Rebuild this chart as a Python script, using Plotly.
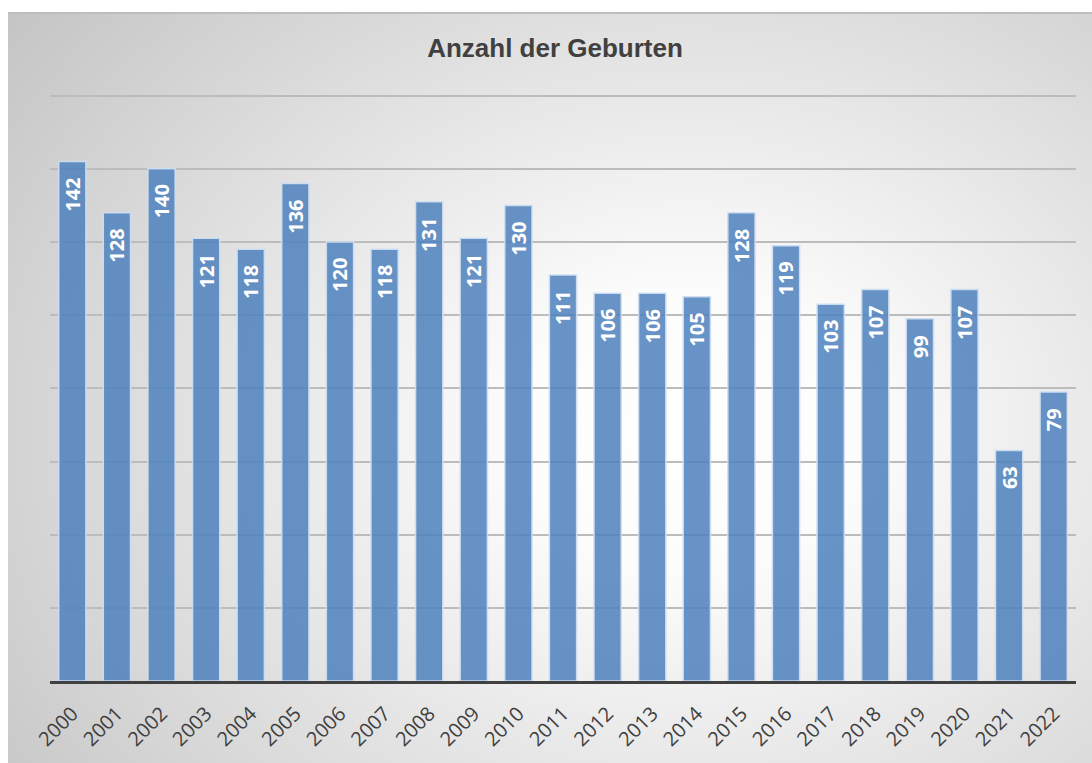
import base64
import plotly.graph_objects as go

# Births per year
years = [str(y) for y in range(2000, 2023)]
births = [142, 128, 140, 121, 118, 136, 120, 118, 131, 121, 130, 111,
          106, 106, 105, 128, 119, 103, 107, 99, 107, 63, 79]

title_text = "Anzahl der Geburten"

# Layout geometry (pixels)
W, H = 1092, 763
Y_MAX = 161
M_L, M_R, M_B = 50, 16, 82
PX_PER_UNIT = 585 / 160
M_T = round(H - M_B - Y_MAX * PX_PER_UNIT)
plot_w = W - M_L - M_R
plot_h = H - M_T - M_B

# Chart-area box (pixel coords) holding the radial-gradient backdrop
box_x0, box_y0, box_x1, box_y1 = 8, 12, W, H
bw, bh = box_x1 - box_x0, box_y1 - box_y0

svg = f"""<svg xmlns='http://www.w3.org/2000/svg' width='{bw}' height='{bh}' viewBox='0 0 {bw} {bh}' preserveAspectRatio='none'>
<defs>
<radialGradient id='g' gradientUnits='userSpaceOnUse' cx='680' cy='420' r='760'
  gradientTransform='translate(680 420) scale(1.15 0.92) translate(-680 -420)'>
<stop offset='0' stop-color='#ffffff'/>
<stop offset='0.2' stop-color='#fcfcfc'/>
<stop offset='1' stop-color='#c3c3c3'/>
</radialGradient>
</defs>
<rect x='0' y='0' width='{bw}' height='{bh}' fill='url(#g)'/>
</svg>"""
bg_uri = "data:image/svg+xml;base64," + base64.b64encode(svg.encode()).decode()


def px_to_paper_x(px):
    return (px - M_L) / plot_w


def px_to_paper_y(py):
    return (H - M_B - py) / plot_h


fig = go.Figure()
fig.add_trace(go.Bar(
    x=years,
    y=births,
    marker=dict(color="rgba(79,129,189,0.86)",
                line=dict(color="rgba(205,222,242,0.95)", width=1.5)),
    hoverinfo="x+y",
))

# Value labels, rotated, just inside the top of each bar
# (category axis: annotation x is the category's serial index)
for i, v in enumerate(births):
    fig.add_annotation(
        x=i, y=v, text=str(v), showarrow=False, textangle=-90,
        yanchor="top", xanchor="center", yshift=-14,
        font=dict(family="Open Sans", size=20, color="white", weight="bold"),
    )

fig.add_layout_image(
    source=bg_uri, xref="paper", yref="paper",
    x=px_to_paper_x(box_x0), y=px_to_paper_y(box_y0),
    sizex=px_to_paper_x(box_x1) - px_to_paper_x(box_x0),
    sizey=px_to_paper_y(box_y0) - px_to_paper_y(box_y1),
    xanchor="left", yanchor="top", sizing="stretch", layer="below",
)

# Thin frame line along the top of the chart area
fig.add_shape(type="line", xref="paper", yref="paper",
              x0=px_to_paper_x(box_x0), x1=px_to_paper_x(box_x1),
              y0=px_to_paper_y(box_y0 + 1), y1=px_to_paper_y(box_y0 + 1),
              line=dict(color="#bdbdbd", width=2))

fig.update_layout(
    width=W, height=H,
    margin=dict(l=M_L, r=M_R, t=M_T, b=M_B, autoexpand=False),
    paper_bgcolor="white",
    plot_bgcolor="rgba(0,0,0,0)",
    bargap=0.39,
    showlegend=False,
    title=dict(text=title_text, xref="paper", x=px_to_paper_x(555), xanchor="center",
               yref="container", y=1 - 48 / H, yanchor="middle",
               font=dict(family="Liberation Sans", size=26, color="#404040", weight="bold")),
    xaxis=dict(
        type="category", tickangle=-45, showgrid=False,
        showline=True, linecolor="#404040", linewidth=3,
        ticks="", ticklabelstandoff=10,
        tickfont=dict(family="Open Sans", size=20, color="#404040"),
    ),
    yaxis=dict(
        range=[0, Y_MAX], tick0=0, dtick=20, showticklabels=False, ticks="",
        showgrid=True, gridcolor="#bcbcbc", gridwidth=1.5, zeroline=False,
    ),
)

fig.write_html("out.html")
